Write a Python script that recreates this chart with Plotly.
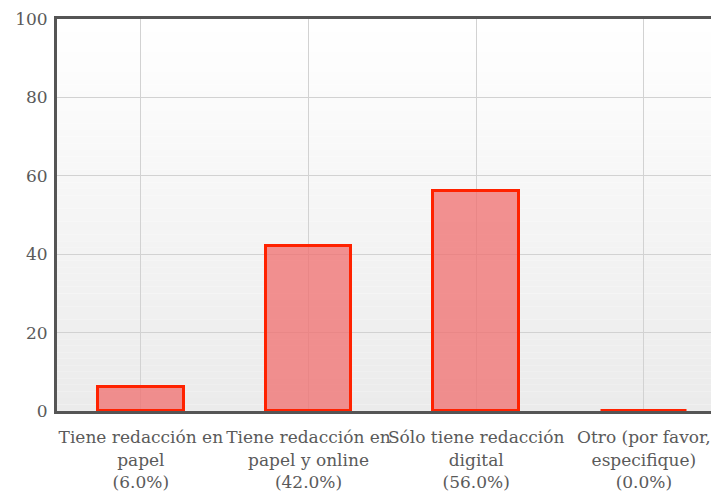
import plotly.graph_objects as go

categories = ["Tiene redacción en<br>papel<br>(6.0%)",
              "Tiene redacción en<br>papel y online<br>(42.0%)",
              "Sólo tiene redacción<br>digital<br>(56.0%)",
              "Otro (por favor,<br>especifique)<br>(0.0%)"]
values = [6.0, 42.0, 56.0, 0.0]
y_ticks = [0, 20, 40, 60, 80, 100]

positions = list(range(len(values)))

fig = go.Figure()
fig.add_trace(go.Bar(
    x=positions, y=values, width=0.51,
    marker=dict(color="rgba(240,110,110,0.75)", line=dict(color="#ff2200", width=3)),
    hoverinfo="skip",
))

# background gradient stripes
n = 60
shapes = []
for i in range(n):
    t = i / (n - 1)
    c = int(round(255 - (255 - 235) * t))
    shapes.append(dict(type="rect", xref="paper", yref="paper",
                       x0=0, x1=1, y0=1 - (i + 1) / n, y1=1 - i / n,
                       fillcolor=f"rgb({c},{c},{c})", line=dict(width=0), layer="below"))

fig.update_layout(
    width=713, height=489,
    margin=dict(l=49, r=0, t=11, b=86, autoexpand=False),
    paper_bgcolor="white", plot_bgcolor="rgba(0,0,0,0)",
    showlegend=False, shapes=shapes, bargap=0,
    font=dict(family="DejaVu Serif", color="#555555"),
)
fig.update_xaxes(
    range=[-0.5, 3.46], tickvals=positions, ticktext=categories, tickangle=0,
    showgrid=True, gridcolor="#d2d2d2", gridwidth=1,
    showline=True, linecolor="#555555", linewidth=3, mirror=True,
    ticks="", tickfont=dict(size=17, color="#5a5a5a"), layer="below traces",
    zeroline=False, fixedrange=True, automargin=False, ticklabelstandoff=9,
)
fig.update_yaxes(
    range=[0, 100], tickvals=y_ticks,
    showgrid=True, gridcolor="#d2d2d2", gridwidth=1,
    showline=True, linecolor="#555555", linewidth=3,
    ticks="", tickfont=dict(size=17, color="#5a5a5a"), ticklabelstandoff=3,
    zeroline=False, layer="below traces", automargin=False,
)
fig.write_html("out.html")
